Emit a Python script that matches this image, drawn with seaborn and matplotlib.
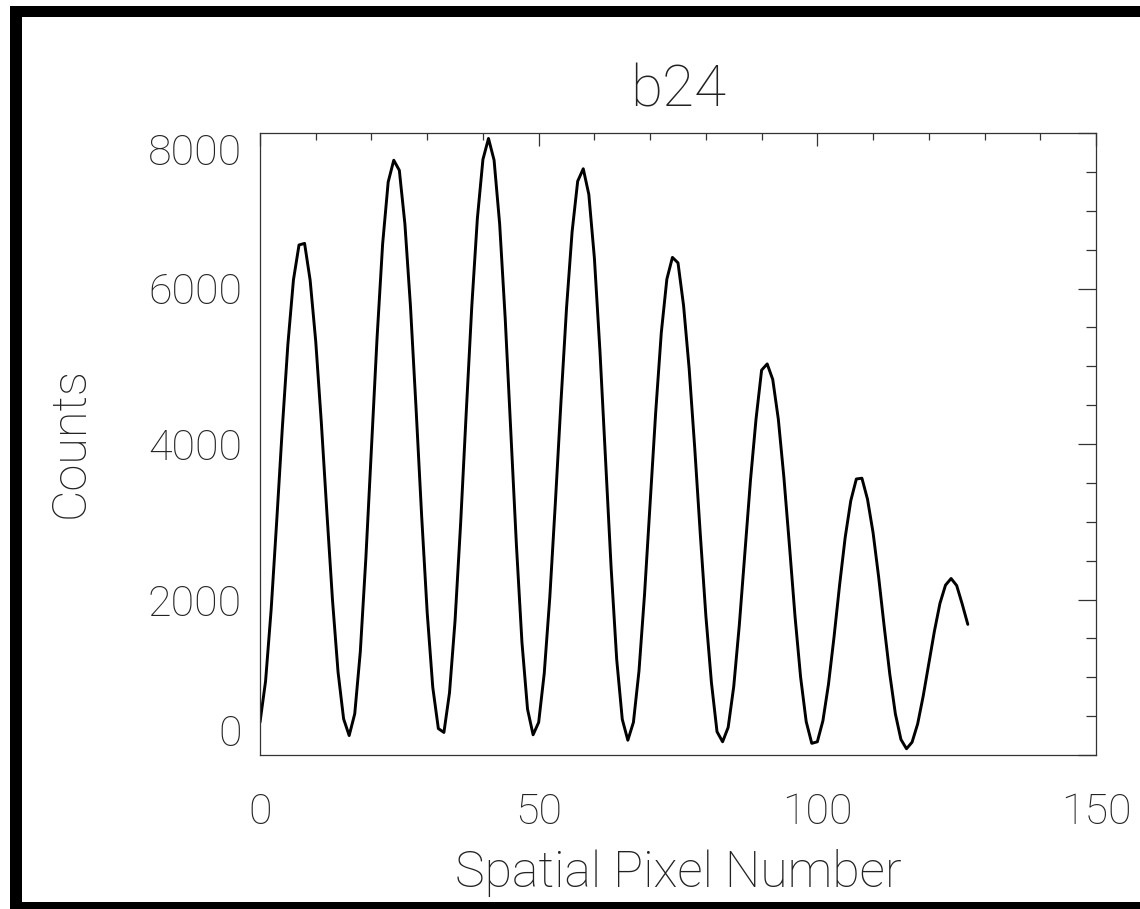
import numpy as np
import pandas as pd
import matplotlib
matplotlib.use("Agg")
import matplotlib.pyplot as plt
import seaborn as sns
from matplotlib.ticker import MultipleLocator
from matplotlib.patches import Rectangle

# counts per spatial pixel (pixels 0..127)
pixel = list(range(128))
counts = [
    420, 950, 1870, 3010, 4200, 5280, 6110, 6560, 6580, 6105,
    5320, 4280, 3120, 2000, 1070, 465, 250, 530, 1330, 2540,
    3950, 5360, 6570, 7370, 7650, 7520, 6830, 5770, 4460, 3080,
    1830, 870, 340, 290, 800, 1730, 2980, 4400, 5770, 6900,
    7660, 7930, 7650, 6830, 5610, 4170, 2710, 1450, 590, 260,
    420, 1050, 2030, 3250, 4540, 5750, 6730, 7380, 7540, 7210,
    6390, 5190, 3800, 2410, 1230, 460, 190, 420, 1080, 2070,
    3230, 4410, 5430, 6120, 6400, 6330, 5780, 4970, 3950, 2840,
    1790, 930, 300, 170, 355, 880, 1670, 2600, 3530, 4320,
    4950, 5030, 4830, 4320, 3570, 2690, 1780, 1000, 430, 150,
    170, 440, 910, 1520, 2190, 2800, 3270, 3550, 3560, 3290,
    2860, 2290, 1650, 1040, 530, 200, 80, 165, 400, 760,
    1175, 1590, 1950, 2185, 2270, 2180, 1940, 1680,
]
xticks = [0, 50, 100, 150]
yticks = [0, 2000, 4000, 6000, 8000]
title = "b24"
xlabel = "Spatial Pixel Number"
ylabel = "Counts"

df = pd.DataFrame({"pixel": pixel, "counts": counts})

sns.set_style("white")
plt.rcParams["font.family"] = ["Roboto", "Liberation Sans", "DejaVu Sans"]
plt.rcParams["font.weight"] = "light"

W, H = 1140, 909
fig = plt.figure(figsize=(11.4, 9.09), dpi=100)
ax = fig.add_axes([260 / W, 154 / H, 836 / W, 622 / H])

sns.lineplot(data=df, x="pixel", y="counts", color="black", lw=2.1, ax=ax)

ax.set_xlim(0, 150)
ax.set_ylim(0, 8000)
ax.set_xticks(xticks, labels=[str(v) for v in xticks])
ax.set_yticks(yticks, labels=[str(v) for v in yticks])
ax.xaxis.set_minor_locator(MultipleLocator(10))
ax.yaxis.set_minor_locator(MultipleLocator(500))

ax.tick_params(axis="both", which="both", direction="in", top=True, right=True,
               color="#333333", width=0.9, labelsize=31, labelcolor="#222222")
ax.tick_params(axis="x", which="major", length=9, pad=27)
ax.tick_params(axis="x", which="minor", length=5)
ax.tick_params(axis="y", which="major", length=13, pad=13)
ax.tick_params(axis="y", which="minor", length=7)
for sp in ax.spines.values():
    sp.set_color("#333333")
    sp.set_linewidth(0.9)

ax.set_title(title, fontsize=42, pad=19, color="#222222", fontweight="light")
ax.set_xlabel(xlabel, fontsize=36, color="#222222", fontweight="light")
ax.set_ylabel(ylabel, fontsize=35, color="#222222", fontweight="light")
ax.xaxis.set_label_coords(0.5, -0.212)
ax.xaxis.label.set_va("baseline")
ax.yaxis.set_label_coords(-0.227, 0.503)
ax.yaxis.label.set_va("center")

fig.canvas.draw()
ylabs = ax.get_yticklabels()
ylabs[0].set_va("bottom")
ylabs[-1].set_va("top")

# black border bars (left, top, bottom; the right side is cut off)
for x0, y0, w, h in [(10, 6, 12, 903), (10, 6, 1130, 11), (10, 902, 1130, 7)]:
    fig.patches.append(Rectangle((x0 / W, 1 - (y0 + h) / H), w / W, h / H,
                                 transform=fig.transFigure, facecolor="black",
                                 edgecolor="none"))

fig.savefig("out.png", dpi=100)
